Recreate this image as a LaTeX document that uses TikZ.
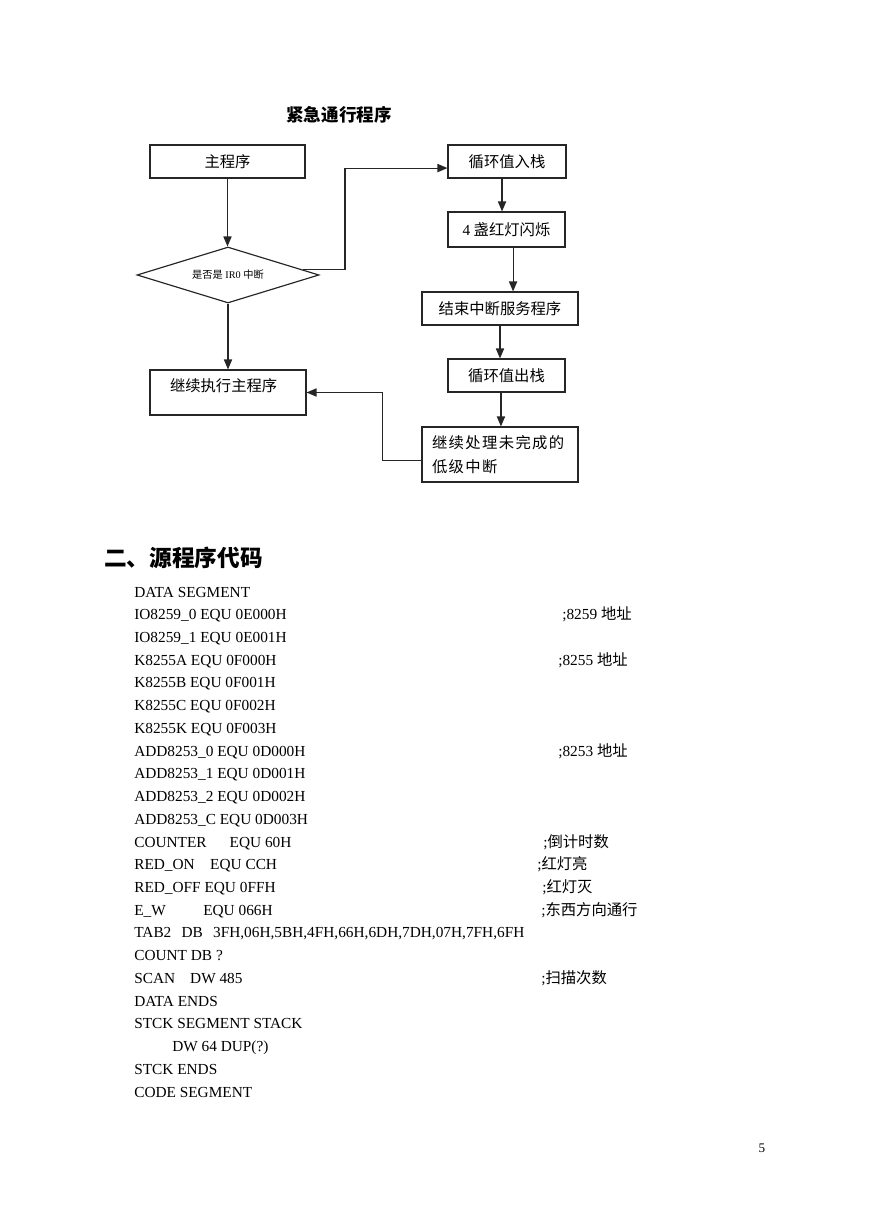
\documentclass[tikz,border=0pt]{standalone}
\usepackage{fontspec}
\setmainfont{Liberation Serif}
\newfontfamily\cjk{Noto Sans CJK SC}
\newfontfamily\cjkwide[LetterSpace=9]{Noto Sans CJK SC}
\usepackage{tikz}
\usetikzlibrary{shapes.geometric, arrows.meta}
\newcommand\pu{0.685pt}

\tikzset{
  box/.style={draw=black!85, line width=0.8pt, minimum height=33*\pu, inner sep=0pt,
    font=\fontsize{10.5pt}{12pt}\selectfont\cjk},
  arr/.style={draw=black!85, line width=0.75pt, -{Triangle[length=6.8pt,width=5.6pt]}},
  code/.style={anchor=base west, inner sep=0pt, font=\fontsize{10.5pt}{12pt}\selectfont},
}

\begin{document}
\begin{tikzpicture}[x=0.685pt, y=-0.685pt]
  \path[fill=white, use as bounding box] (0,0) rectangle (869,1228);
  % flow chart
  \node[font=\fontsize{12pt}{14pt}\selectfont\cjk\bfseries] (title) at (339,115) {紧急通行程序};
  \node[box, minimum width=155*\pu] (main) at (227.5,161.5) {主程序};
  \node[diamond, draw=black!85, line width=0.8pt, minimum width=182*\pu, minimum height=56*\pu,
    aspect=3.25, inner sep=0pt, font=\fontsize{7pt}{8pt}\selectfont] (ir) at (228,275)
    {{\cjk 是否是} IR0 {\cjk 中断}};
  \node[box, minimum width=156*\pu, minimum height=45*\pu, text width=116*\pu, align=left,
    text depth=10pt] (back) at (228,392.5) {继续执行主程序};
  \node[box, minimum width=118*\pu] (push) at (507,161.5) {循环值入栈};
  \node[box, minimum width=117*\pu, minimum height=35*\pu] (flash) at (506.5,229.5) {{\normalfont 4} 盏红灯闪烁};
  \node[box, minimum width=156*\pu] (eoi) at (500,308.5) {结束中断服务程序};
  \node[box, minimum width=117*\pu] (pop) at (506.5,375.5) {循环值出栈};
  \node[box, minimum width=156*\pu, minimum height=55*\pu, text width=136*\pu, align=left,
    font=\fontsize{10.5pt}{16.4pt}\selectfont\cjkwide] (rest) at (500,454.5) {继续处理未完成的\\低级中断};
  \coordinate (jog) at (345,200);

  \draw[arr] (main.south) -- (main.south |- ir.north);
  \draw[arr] (ir.south) -- (back.north);
  \draw[arr] (ir.4) -- (ir.4 -| jog) |- ([yshift=-4.5pt]push.west);
  \draw[arr] ([xshift=-3.4pt]push.south) coordinate (p1) -- (p1 |- flash.north);
  \draw[arr] ([xshift=4.5pt]flash.south) coordinate (f1) -- (f1 |- eoi.north);
  \draw[arr] (eoi.south) coordinate (e1) -- (e1 |- pop.north);
  \draw[arr] ([xshift=-3.8pt]pop.south) coordinate (o1) -- (o1 |- rest.north);
  \draw[arr] ([yshift=-3.8pt]rest.west) -- ++(-39,0) |- (back.east);

  % source listing
  \node[anchor=west, inner sep=0pt, font=\fontsize{15.5pt}{18pt}\selectfont\cjk\bfseries] (sec) at (104,558) {二、源程序代码};
  \node[code] (c0) at (134,597.0) {DATA SEGMENT};
  \node[code] (c1) at (134,619.7) {IO8259\_0 EQU 0E000H};
  \node[code] (c2) at (134,642.5) {IO8259\_1 EQU 0E001H};
  \node[code] (c3) at (134,665.2) {K8255A EQU 0F000H};
  \node[code] (c4) at (134,687.9) {K8255B EQU 0F001H};
  \node[code] (c5) at (134,710.7) {K8255C EQU 0F002H};
  \node[code] (c6) at (134,733.4) {K8255K EQU 0F003H};
  \node[code] (c7) at (134,756.1) {ADD8253\_0 EQU 0D000H};
  \node[code] (c8) at (134,778.8) {ADD8253\_1 EQU 0D001H};
  \node[code] (c9) at (134,801.6) {ADD8253\_2 EQU 0D002H};
  \node[code] (c10) at (134,824.3) {ADD8253\_C EQU 0D003H};
  \node[code] (c11) at (134,847.0) {COUNTER\hspace{15.8pt}EQU 60H};
  \node[code] (c12) at (134,869.8) {RED\_ON\hspace{10.6pt}EQU CCH};
  \node[code] (c13) at (134,892.5) {RED\_OFF EQU 0FFH};
  \node[code] (c14) at (134,915.2) {E\_W\hspace{25.7pt}EQU 066H};
  \node[code] (c15) at (134,937.9) {TAB2\hspace{7pt}DB\hspace{7pt}3FH,06H,5BH,4FH,66H,6DH,7DH,07H,7FH,6FH};
  \node[code] (c16) at (134,960.7) {COUNT DB ?};
  \node[code] (c17) at (134,983.4) {SCAN\hspace{10.3pt}DW 485};
  \node[code] (c18) at (134,1006.1) {DATA ENDS};
  \node[code] (c19) at (134,1028.9) {STCK SEGMENT STACK};
  \node[code] (c20) at (172,1051.6) {DW 64 DUP(?)};
  \node[code] (c21) at (134,1074.3) {STCK ENDS};
  \node[code] (c22) at (134,1097.1) {CODE SEGMENT};

  % comments
  \node[code] (m1) at (562,619.7) {;8259 {\cjk 地址}};
  \node[code] (m3) at (558,665.2) {;8255 {\cjk 地址}};
  \node[code] (m7) at (558,756.1) {;8253 {\cjk 地址}};
  \node[code] (m11) at (543,847.0) {;{\cjk 倒计时数}};
  \node[code] (m12) at (537,869.8) {;{\cjk 红灯亮}};
  \node[code] (m13) at (542,892.5) {;{\cjk 红灯灭}};
  \node[code] (m14) at (541,915.2) {;{\cjk 东西方向通行}};
  \node[code] (m17) at (541,983.4) {;{\cjk 扫描次数}};

  \node[font=\fontsize{9pt}{10pt}\selectfont] (pageno) at (762,1148) {5};
\end{tikzpicture}
\end{document}
